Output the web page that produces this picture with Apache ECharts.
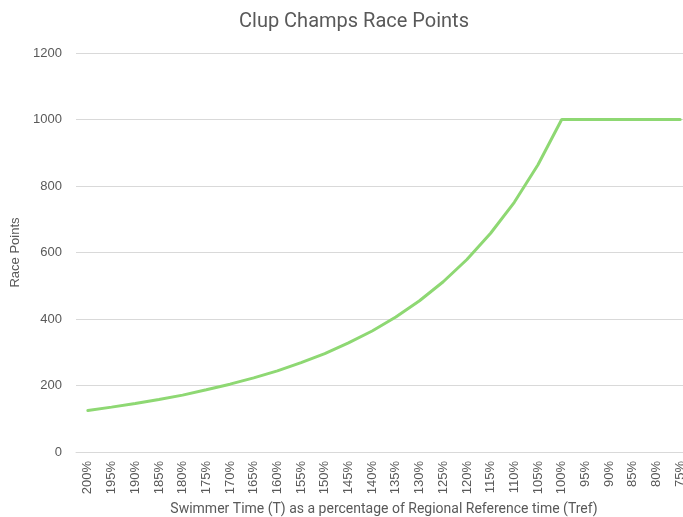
<!DOCTYPE html>
<html>
<head>
<meta charset="utf-8">
<script src="https://cdn.jsdelivr.net/npm/echarts@6/dist/echarts.min.js"></script>
<style>
html, body { margin: 0; padding: 0; background: #fff; }
#container { width: 683px; height: 517px; }
</style>
</head>
<body>
<div id="container"></div>
<script>
// 横轴分类：游泳时间占参考时间的百分比
var categories = ['200%', '195%', '190%', '185%', '180%', '175%', '170%', '165%', '160%', '155%',
    '150%', '145%', '140%', '135%', '130%', '125%', '120%', '115%', '110%', '105%',
    '100%', '95%', '90%', '85%', '80%', '75%'];
// 积分值
var racePoints = [125, 135, 146, 158, 171, 187, 204, 223, 244, 269,
    296, 328, 364, 406, 455, 512, 579, 658, 751, 864,
    1000, 1000, 1000, 1000, 1000, 1000];
var yTicks = [0, 200, 400, 600, 800, 1000, 1200];

var narrowFont = '"Roboto", sans-serif';
var labelFont = '"Liberation Sans", Arial, sans-serif';
var myChart = echarts.init(document.getElementById('container'));
var option = {
    animation: false,
    backgroundColor: '#fff',
    title: {
        text: 'Clup Champs Race Points',
        left: 234,
        top: 7,
        textStyle: { color: '#595959', fontSize: 20, fontWeight: 'normal', fontFamily: narrowFont }
    },
    //右边被裁掉一点，所以用宽度而不是right
    grid: { left: 76, top: 53, width: 616, height: 399, containLabel: false, outerBoundsMode: 'none' },
    xAxis: {
        type: 'category',
        data: categories,
        boundaryGap: true,
        name: 'Swimmer Time (T) as a percentage of Regional Reference time (Tref)',
        nameLocation: 'middle',
        nameGap: 48,
        nameTextStyle: { color: '#595959', fontSize: 14, fontFamily: narrowFont },
        axisLine: { show: true, lineStyle: { color: '#d9d9d9' } },
        axisTick: { show: false },
        axisLabel: { rotate: 90, color: '#595959', fontSize: 13, fontFamily: labelFont, interval: 0, margin: 9 }
    },
    yAxis: {
        type: 'value',
        min: yTicks[0],
        max: yTicks[yTicks.length - 1],
        interval: 200,
        name: 'Race Points',
        nameLocation: 'middle',
        nameGap: 46,
        nameTextStyle: { color: '#595959', fontSize: 13, fontFamily: labelFont },
        axisLine: { show: false },
        axisTick: { show: false },
        axisLabel: {
            color: '#595959', fontSize: 13, fontFamily: labelFont, margin: 14,
            formatter: function (v) { return String(v); }
        },
        splitLine: { lineStyle: { color: '#d9d9d9' } }
    },
    series: [{
        name: 'Race Points',
        type: 'line',
        data: racePoints,
        symbol: 'none',
        smooth: false,
        lineStyle: { color: '#8ed873', width: 3, cap: 'round' },
        itemStyle: { color: '#8ed873' }
    }]
};
myChart.setOption(option);
</script>
</body>
</html>
